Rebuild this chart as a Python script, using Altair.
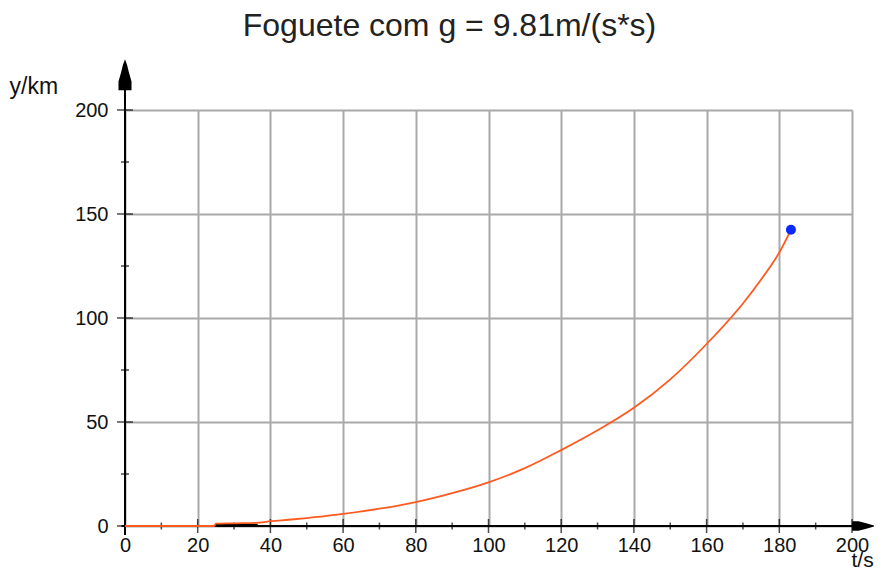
import altair as alt
import pandas as pd

# ---- data ----
curve_t = [0, 24.5, 25, 30, 37, 40, 45, 50, 55, 60, 70, 80, 90, 100, 110, 120,
           130, 140, 150, 160, 170, 175, 180, 183.2]
curve_y = [0, 0, 1.1, 1.3, 1.6, 2.3, 3.0, 3.8, 4.7, 5.8, 8.3, 11.5, 15.8, 21.0,
           27.8, 36.5, 46.0, 56.8, 70.5, 87.5, 107.0, 118.5, 131.5, 142.4]
stage_t = [25, 36.5]
stage_y = [0.6, 0.6]
point_t = [183.2]
point_y = [142.4]
x_major = list(range(0, 201, 20))
x_minor = list(range(10, 200, 20))
y_major = list(range(0, 201, 50))
y_minor = [25, 75, 125, 175]
x_axis_ext = [-1, 202]
y_axis_ext = [-4.3, 214]
x_arrow = [203.2]
y_arrow = [217]

TITLE = "Foguete com g = 9.81m/(s*s)"
FONT = "Liberation Sans"
W, H = 727, 416

xscale = alt.Scale(domain=[0, 200], nice=False, zero=False)
yscale = alt.Scale(domain=[0, 200], nice=False, zero=False)

xaxis = alt.Axis(values=x_major, grid=True, gridColor="#a9a9a9", gridWidth=2,
                 domain=False, ticks=False, labelFont=FONT, labelFontSize=20,
                 labelColor="#111", labelPadding=9, labelFlush=False,
                 title="t/s", titleFont=FONT, titleFontSize=21,
                 titleFontWeight="normal", titleColor="#111",
                 titleX=W - 1, titleY=40, titleAlign="left",
                 titleBaseline="alphabetic", titleAnchor="start")
yaxis = alt.Axis(values=y_major, grid=True, gridColor="#a9a9a9", gridWidth=2,
                 domain=False, ticks=False, labelFont=FONT, labelFontSize=20,
                 labelColor="#111", labelPadding=17,
                 title="y/km", titleFont=FONT, titleFontSize=23,
                 titleFontWeight="normal", titleColor="#111", titleAngle=0,
                 titleX=-116, titleY=-17, titleAlign="left",
                 titleBaseline="alphabetic", titleAnchor="start")

X = alt.X("t:Q", scale=xscale, axis=xaxis)
Y = alt.Y("y:Q", scale=yscale, axis=yaxis)

curve_df = pd.DataFrame({"t": curve_t, "y": curve_y})
stage_df = pd.DataFrame({"t": stage_t, "y": stage_y})
point_df = pd.DataFrame({"t": point_t, "y": point_y})
xmaj_df = pd.DataFrame({"t": x_major, "y": [0] * len(x_major)})
xmin_df = pd.DataFrame({"t": x_minor, "y": [0] * len(x_minor)})
ymaj_df = pd.DataFrame({"t": [0] * len(y_major), "y": y_major})
ymin_df = pd.DataFrame({"t": [0] * len(y_minor), "y": y_minor})
xline_df = pd.DataFrame({"t": [x_axis_ext[0]], "t2": [x_axis_ext[1]], "y": [0]})
yline_df = pd.DataFrame({"t": [0], "y": [y_axis_ext[0]], "y2": [y_axis_ext[1]]})
xarrow_df = pd.DataFrame({"t": x_arrow, "y": [0]})
yarrow_df = pd.DataFrame({"t": [0], "y": y_arrow})

ARROW = "M0,-1 L0.14,-0.6 L0.25,-0.15 L0.42,0.45 L0.42,1 L-0.42,1 L-0.42,0.45 L-0.25,-0.15 L-0.14,-0.6 Z"

xline = alt.Chart(xline_df).mark_rule(color="black", strokeWidth=2, clip=False).encode(
    x=X, x2="t2:Q", y=Y)
yline = alt.Chart(yline_df).mark_rule(color="black", strokeWidth=2, clip=False).encode(
    x=X, y=Y, y2="y2:Q")
xmaj = alt.Chart(xmaj_df).mark_tick(color="black", thickness=1.5, size=14,
                                    orient="vertical", clip=False).encode(x=X, y=Y)
xmin = alt.Chart(xmin_df).mark_tick(color="black", thickness=1.5, size=7,
                                    orient="vertical", clip=False).encode(x=X, y=Y)
ymaj = alt.Chart(ymaj_df).mark_tick(color="black", thickness=1.5, size=16,
                                    orient="horizontal", clip=False).encode(x=X, y=Y)
ymin = alt.Chart(ymin_df).mark_tick(color="black", thickness=1.5, size=8,
                                    orient="horizontal", clip=False).encode(x=X, y=Y)
xarrow = alt.Chart(xarrow_df).mark_point(shape=ARROW, size=530, angle=90, filled=True,
                                         color="black", opacity=1, clip=False).encode(x=X, y=Y)
yarrow = alt.Chart(yarrow_df).mark_point(shape=ARROW, size=960, filled=True,
                                         color="black", opacity=1, clip=False).encode(x=X, y=Y)
stage = alt.Chart(stage_df).mark_line(color="black", strokeWidth=2.2, clip=False).encode(
    x=X, y=Y)
curve = alt.Chart(curve_df).mark_line(color="#ff5a1f", strokeWidth=1.8,
                                      interpolate="monotone", clip=False).encode(
    x=X, y=Y, order="t:Q")
point = alt.Chart(point_df).mark_point(shape="circle", size=100, filled=True,
                                       color="#0a28ff", opacity=1, clip=False).encode(x=X, y=Y)

chart = alt.layer(
    xline, yline, xmaj, xmin, ymaj, ymin, xarrow, yarrow, stage, curve, point
).properties(
    width=W, height=H,
    title=alt.TitleParams(TITLE, font=FONT, fontSize=32, fontWeight="normal",
                          color="#222", anchor="middle", frame="group", dx=-39, dy=-12),
    padding={"left": 117, "top": 102, "right": 22, "bottom": 45},
    autosize=alt.AutoSizeParams(type="none"),
).configure_view(stroke=None).configure(background="white")

chart.save("out.html", embed_options={"renderer": "svg", "actions": False})
